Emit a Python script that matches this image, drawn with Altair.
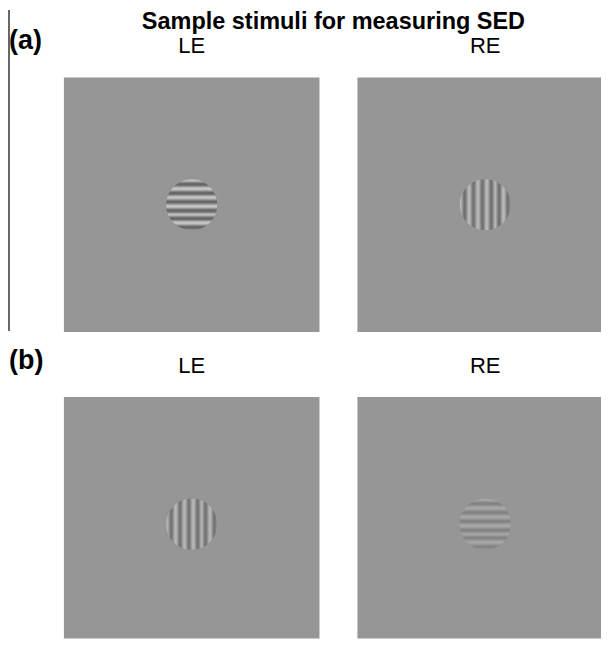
import altair as alt
import pandas as pd

# ---------------- data ----------------
TITLE = "Sample stimuli for measuring SED"
ROW_LABELS = ["(a)", "(a)", "(b)", "(b)"]
EYES = ["LE", "RE", "LE", "RE"]
ORIENT = ["horizontal", "vertical", "vertical", "horizontal"]
AMPLITUDE = [52, 38, 36, 20]      # grating luminance modulation (0-255 grey levels)
BACKGROUND = 150                  # mean grey level of the field
RADIUS_DEG = 1.0                  # grating patch radius (deg)
FIELD_DEG = 5.0                   # half size of the display field (deg)
# grating luminance profile across the patch diameter (relative modulation, -1 dark .. 1 light)
PROFILE = [0.94, 0.94, 0.5, -0.17, -0.77, -1, -0.77, -0.17, 0.5, 0.94,
           0.94, 0.5, -0.17, -0.77, -1, -0.77, -0.17, 0.5, 0.94,
           0.94, 0.5, -0.17, -0.77, -1, -0.77, -0.17, 0.5, 0.94,
           0.94, 0.5, -0.17, -0.77, -1, -0.77, -0.17, 0.5, 0.94,
           0.5, -0.17, -0.77, -1, -0.77, -0.17, 0.5, 0.94,
           0.94, 0.5, -0.17, -0.77, -1, -0.77, -0.17]

FONT = "Liberation Sans"
BG_HEX = "#969696"
PX_PER_DEG = 25.6

GREY = alt.Scale(domain=[0, 255], range=["#000000", "#ffffff"], interpolate="rgb")


def panel(k, width, height):
    R = RADIUS_DEG
    F = FIELD_DEG
    # field is 256 px square; the right / bottom panels are cropped by the page edge
    xdom = [-F, -F + width / PX_PER_DEG]
    ydom = [F - height / 25.5, F]
    n = len(PROFILE)
    step = 2 * R / n
    rows = []
    for i, m in enumerate(PROFILE):
        lum = BACKGROUND + AMPLITUDE[k] * m
        if ORIENT[k] == "horizontal":
            rows.append(dict(x=-R, x2=R, y=R - (i + 1) * step, y2=R - i * step, lum=lum))
        else:
            rows.append(dict(x=-R + i * step, x2=-R + (i + 1) * step, y=-R, y2=R, lum=lum))
    df = pd.DataFrame(rows)
    xs = alt.Scale(domain=xdom, nice=False, zero=False)
    ys = alt.Scale(domain=ydom, nice=False, zero=False)

    stripes = alt.Chart(df).mark_rect(strokeWidth=0.6).encode(
        x=alt.X("x:Q", scale=xs, axis=None), x2="x2:Q",
        y=alt.Y("y:Q", scale=ys, axis=None), y2="y2:Q",
        color=alt.Color("lum:Q", scale=GREY, legend=None),
        stroke=alt.Stroke("lum:Q", scale=GREY, legend=None),
    )
    mask = alt.Chart(pd.DataFrame({"cx": [0.0], "cy": [0.0]})).mark_point(
        shape="circle", filled=False, size=4251, strokeWidth=14,
        stroke=BG_HEX, opacity=1, strokeOpacity=1,
    ).encode(
        x=alt.X("cx:Q", scale=xs, axis=None),
        y=alt.Y("cy:Q", scale=ys, axis=None),
    )
    eye = alt.Chart(pd.DataFrame({"label": [EYES[k]]})).mark_text(
        font=FONT, fontSize=22, align="center", baseline="alphabetic", color="black"
    ).encode(text="label:N", x=alt.datum(0.0), y=alt.value(-24))
    layers = [stripes, mask, eye]

    if EYES[k] == "LE":
        lab = alt.Chart(pd.DataFrame({"label": [ROW_LABELS[k]]})).mark_text(
            font=FONT, fontSize=27, fontWeight="bold", align="left",
            baseline="alphabetic", color="black"
        ).encode(text="label:N", x=alt.value(-55), y=alt.value(-28))
        layers.append(lab)
    if k == 0:
        rule = alt.Chart(pd.DataFrame({"v": [0]})).mark_rule(
            color="black", strokeWidth=1.2
        ).encode(x=alt.value(-55), y=alt.value(-67.5), y2=alt.value(254))
        title = alt.Chart(pd.DataFrame({"label": [TITLE]})).mark_text(
            font=FONT, fontSize=23.5, fontWeight="bold", align="center",
            baseline="alphabetic", color="black"
        ).encode(text="label:N", x=alt.value(270), y=alt.value(-48))
        layers += [rule, title]

    return alt.layer(*layers).properties(
        width=width, height=height,
        view=alt.ViewBackground(fill=BG_HEX, strokeWidth=0),
    )


p0 = panel(0, 256, 255)
p1 = panel(1, 244, 255)
p2 = panel(2, 256, 242)
p3 = panel(3, 244, 242)

chart = alt.concat(
    p0, p1, p2, p3, columns=2,
    spacing=alt.RowColnumber(row=65, column=38), bounds="flush",
).properties(padding=0).configure_view(strokeWidth=0)

chart.save("out.html", embed_options={"renderer": "svg", "actions": False})
